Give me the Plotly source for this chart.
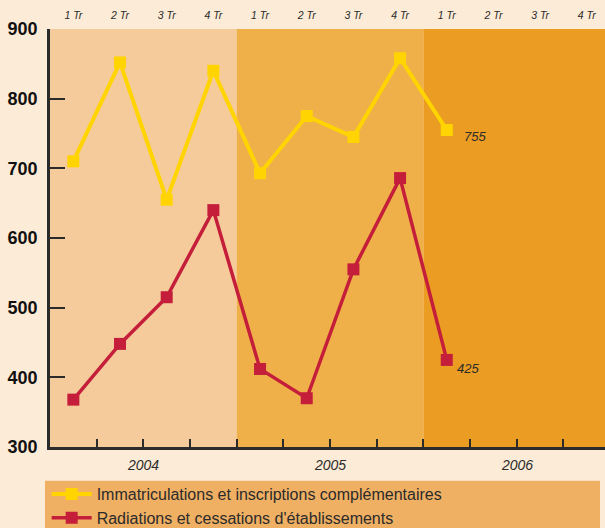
import plotly.graph_objects as go

# quarters (centre of each quarter on a 0..12 axis)
quarters = ["1 Tr", "2 Tr", "3 Tr", "4 Tr"] * 3
quarter_pos = [i + 0.5 for i in range(12)]
years = ["2004", "2005", "2006"]
year_pos = [2, 6, 10]

immat = [710, 852, 655, 840, 693, 775, 745, 858, 755]
radiat = [368, 448, 515, 640, 412, 370, 555, 686, 425]
x_obs = quarter_pos[:9]

YELLOW = "#FFD400"
RED = "#C41E3A"
DARK = "#2b2b2b"
PANELS = ["#F5CB9B", "#F0B049", "#EB9C22"]
FONT = "Liberation Sans, Arial, sans-serif"

fig = go.Figure()

# year background panels
for i, col in enumerate(PANELS):
    fig.add_shape(type="rect", xref="x", yref="paper", x0=4 * i, x1=4 * i + 4,
                  y0=0, y1=1, fillcolor=col, line_width=0, layer="below")

# legend box
fig.add_shape(type="rect", xref="paper", yref="paper", x0=-0.009, x1=0.991,
              y0=-0.2, y1=-0.081, fillcolor="#F0B063", line_width=0, layer="below")

fig.add_trace(go.Scatter(
    x=x_obs, y=immat, mode="lines+markers",
    name="Immatriculations et inscriptions complémentaires",
    line=dict(color=YELLOW, width=4),
    marker=dict(symbol="square", size=12, color=YELLOW),
))
fig.add_trace(go.Scatter(
    x=x_obs, y=radiat, mode="lines+markers",
    name="Radiations et cessations d'établissements",
    line=dict(color=RED, width=3.5),
    marker=dict(symbol="square", size=12, color=RED),
))

# last values
fig.add_annotation(x=x_obs[-1], y=immat[-1], text="<i>755</i>", showarrow=False,
                   xanchor="left", xshift=15, yshift=-6,
                   font=dict(size=13, color=DARK))
fig.add_annotation(x=x_obs[-1], y=radiat[-1], text="<i>425</i>", showarrow=False,
                   xanchor="left", xshift=8, yshift=-9,
                   font=dict(size=13, color=DARK))

# year labels under the axis
for yr, xp in zip(years, year_pos):
    fig.add_annotation(x=xp, y=-0.02, xref="x", yref="paper", text=f"<i>{yr}</i>",
                       showarrow=False, yanchor="top", font=dict(size=14, color=DARK))

fig.update_layout(
    width=605, height=528,
    margin=dict(l=50, r=0, t=29, b=81, autoexpand=False),
    paper_bgcolor="#FCEBD6",
    plot_bgcolor="rgba(0,0,0,0)",
    font=dict(family=FONT, color=DARK),
    showlegend=True,
    legend=dict(x=-0.006, y=-0.072, xanchor="left", yanchor="top",
                bgcolor="rgba(0,0,0,0)", font=dict(size=16, color=DARK),
                itemwidth=40, tracegroupgap=0),
    xaxis=dict(range=[0, 11.89], tickvals=list(range(13)), ticktext=[""] * 13,
               ticks="inside", ticklen=8, tickwidth=2, tickcolor=DARK,
               showline=True, linecolor=DARK, linewidth=2.5, automargin=False,
               showgrid=False, zeroline=False, fixedrange=True),
    xaxis2=dict(range=[0, 11.89], overlaying="x", side="top", automargin=False,
                tickvals=quarter_pos, ticktext=[f"<i>{q}</i>" for q in quarters],
                tickfont=dict(size=10.5, color=DARK), ticks="", showline=False,
                showgrid=False, zeroline=False, ticklabelstandoff=7),
    yaxis=dict(range=[300, 900], tickvals=[300, 400, 500, 600, 700, 800, 900],
               ticks="inside", ticklen=15, tickwidth=2, tickcolor=DARK,
               tickfont=dict(size=18, color="#111111", family=FONT, weight="bold"),
               showline=True, linecolor=DARK, linewidth=2.5, automargin=False,
               showgrid=False, zeroline=False, ticklabelstandoff=6),
)
# dummy trace to show top axis
fig.add_trace(go.Scatter(x=[None], y=[None], xaxis="x2", showlegend=False))

# drop the browser's default body margin so the figure fills the window
fig.write_html("out.html", config={"displayModeBar": False},
               post_script="document.body.style.margin='0';")
